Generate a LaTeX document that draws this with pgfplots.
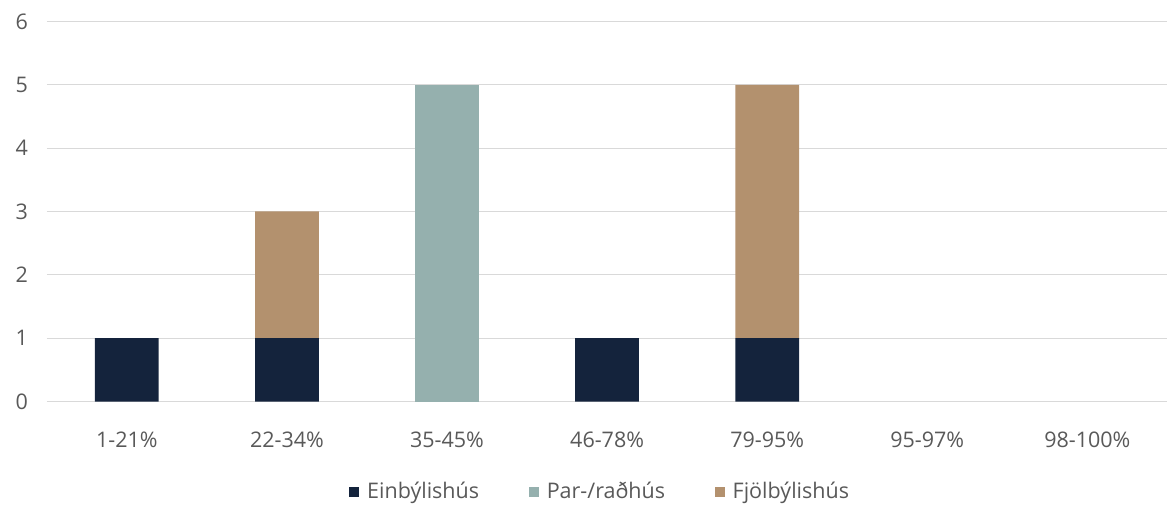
\documentclass[border=0pt]{standalone}
\usepackage{pgfplots}
\pgfplotsset{compat=1.18}
\usepackage{fontspec}
\setmainfont{Open Sans}
\definecolor{cEin}{HTML}{14233C}
\definecolor{cPar}{HTML}{95B0AE}
\definecolor{cFjol}{HTML}{B3916E}
\definecolor{cTick}{HTML}{595959}
\definecolor{cGrid}{HTML}{D9D9D9}
\begin{document}
\begin{tikzpicture}
\begin{axis}[
  scale only axis,
  width=563pt, height=191pt,
  ybar stacked,
  bar width=32pt,
  xmin=-0.5, xmax=6.5,
  ymin=0, ymax=6,
  xtick={0,1,2,3,4,5,6},
  xticklabels={1-21\%,22-34\%,35-45\%,46-78\%,79-95\%,95-97\%,98-100\%},
  ytick={0,1,2,3,4,5,6},
  major tick length=0pt,
  axis line style={draw=none},
  ymajorgrids,
  grid style={cGrid, line width=0.6pt},
  tick label style={font=\fontsize{10.8}{12}\selectfont, text=cTick},
  /pgf/number format/assume math mode=true,
  xticklabel style={anchor=center, yshift=-19pt},
  yticklabel style={anchor=center, xshift=-12.5pt},
  legend style={draw=none, at={(0.5,0)}, anchor=center, yshift=-45.5pt, xshift=-3pt,
    legend columns=-1, font=\fontsize{10.8}{12}\selectfont, text=cTick,
    /tikz/every even column/.append style={column sep=23pt},
    /tikz/every odd column/.append style={column sep=2pt}},
  legend image code/.code={\fill[#1] (0pt,-2.5pt) rectangle (5pt,2.5pt);},
  clip=false,
]
\addplot[fill=cEin, draw=none] coordinates {(0,1) (1,1) (2,0) (3,1) (4,1) (5,0) (6,0)};
\addplot[fill=cPar, draw=none] coordinates {(0,0) (1,0) (2,5) (3,0) (4,0) (5,0) (6,0)};
\addplot[fill=cFjol, draw=none] coordinates {(0,0) (1,2) (2,0) (3,0) (4,4) (5,0) (6,0)};
\legend{Einbýlishús, Par-/raðhús, Fjölbýlishús}
\end{axis}
\path ([xshift=-23.5pt,yshift=-51.75pt]current axis.south west) rectangle ([xshift=-2.5pt,yshift=10.75pt]current axis.north east);
\end{tikzpicture}
\end{document}
